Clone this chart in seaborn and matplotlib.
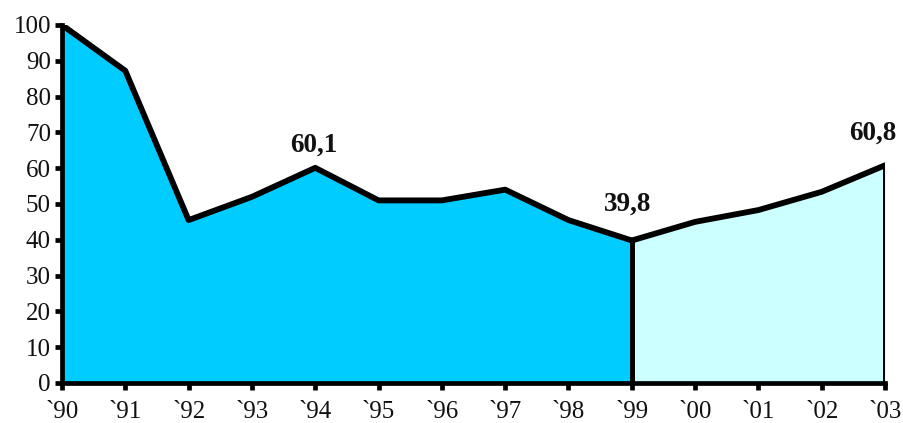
import matplotlib
matplotlib.use("Agg")
import matplotlib.pyplot as plt
import seaborn as sns
import pandas as pd

years1 = [1990, 1991, 1992, 1993, 1994, 1995, 1996, 1997, 1998, 1999]
values1 = [100, 87.2, 45.5, 52, 60.1, 51, 51, 54, 45.5, 39.8]
years2 = [1999, 2000, 2001, 2002, 2003]
values2 = [39.8, 45, 48.3, 53.4, 60.8]
tick_years = list(range(1990, 2004))
tick_labels = ["`90", "`91", "`92", "`93", "`94", "`95", "`96", "`97", "`98", "`99",
               "`00", "`01", "`02", "`03"]
annotations = [(1994, 60.1, "60,1"), (1999, 39.8, "39,8"), (2003, 60.8, "60,8")]

sns.set_style("ticks")
plt.rcParams["font.family"] = ["Liberation Serif", "DejaVu Serif"]

df1 = pd.DataFrame({"year": years1, "value": values1})
df2 = pd.DataFrame({"year": years2, "value": values2})

fig = plt.figure(figsize=(9.04, 4.23), dpi=100)
ax = fig.add_axes([0.0686, 0.0946, 0.9104, 0.8464])

ax.fill_between(df1["year"], 0, df1["value"], color="#00CCFF", linewidth=0)
ax.fill_between(df2["year"], 0, df2["value"], color="#CCFFFF", linewidth=0)

lw = 4.2
sns.lineplot(data=df1, x="year", y="value", ax=ax, color="black", linewidth=lw,
             solid_joinstyle="round", solid_capstyle="round")
sns.lineplot(data=df2, x="year", y="value", ax=ax, color="black", linewidth=lw,
             solid_joinstyle="round", solid_capstyle="round")
ax.vlines([years1[-1], years2[-1]], 0, [values1[-1], values2[-1]], color="black",
          linewidth=lw * 0.85)

ax.set_xlim(1990, 2003)
ax.set_ylim(0, 100)
ax.set_xticks(tick_years)
ax.set_xticklabels(tick_labels)
ax.set_yticks(range(0, 101, 10))
ax.set_xlabel("")
ax.set_ylabel("")

for s in ["top", "right"]:
    ax.spines[s].set_visible(False)
for s in ["left", "bottom"]:
    ax.spines[s].set_linewidth(3.4)
    ax.spines[s].set_color("black")
ax.tick_params(axis="both", length=5, width=3.4, color="black", labelsize=18,
               labelcolor="#111111")
ax.tick_params(axis="x", pad=8)
ax.tick_params(axis="y", pad=3)

offsets = [(-1, 7), (-3, 17), (-9, 14)]
for (x, y, t), off in zip(annotations, offsets):
    ax.annotate(t, (x, y), xytext=off, textcoords="offset points", ha="center",
                va="bottom", fontsize=19.5, fontweight="bold", color="#111111")

fig.savefig("out.png", dpi=100)
